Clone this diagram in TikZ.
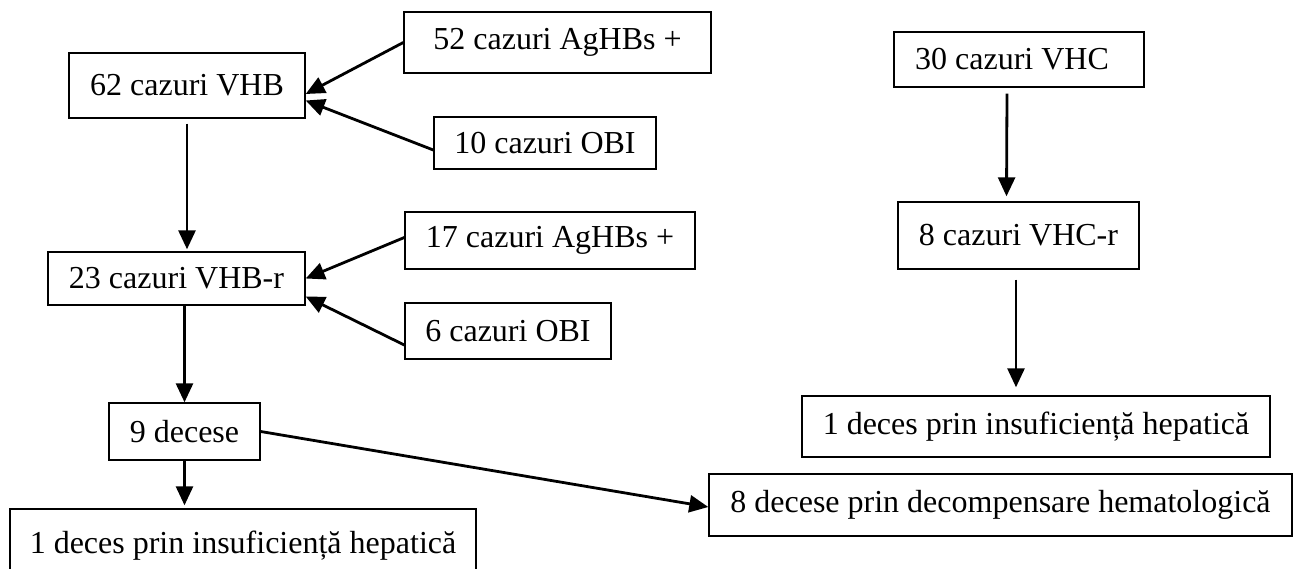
\documentclass[tikz,border=0pt]{standalone}
\usepackage{fontspec}
\setmainfont{Liberation Serif}
\usetikzlibrary{arrows.meta,calc}
\begin{document}
\begin{tikzpicture}[x=1pt,y=-1pt,
  box/.style={draw, line width=1.4pt, inner sep=0pt, align=center, font=\fontsize{32}{38}\selectfont},
  arr/.style={line width=2.8pt, -{Triangle[length=19pt,width=17pt]}}]
\useasboundingbox (0,0) rectangle (1293,569);
\fill[white] (0,0) rectangle (1293,569);
\clip (0,0) rectangle (1293,569);
% left column
\node[box, minimum width=307pt, minimum height=61pt] (ag1) at (557.5,42.5) {52 cazuri AgHBs +};
\node[box, minimum width=236pt, minimum height=65pt] (vhb) at (187,85.5) {62 cazuri VHB};
\node[box, minimum width=222pt, minimum height=52pt] (obi1) at (545,143) {10 cazuri OBI};
\node[box, minimum width=290pt, minimum height=57pt] (ag2) at (550,240.5) {17 cazuri AgHBs +};
\node[box, minimum width=257pt, minimum height=53pt] (vhbr) at (176.5,278.5) {23 cazuri VHB-r};
\node[box, minimum width=206pt, minimum height=56pt] (obi2) at (508,331) {6 cazuri OBI};
\node[box, minimum width=151pt, minimum height=57pt] (dec) at (184.5,431.5) {9 decese};
\node[box, minimum width=466pt, minimum height=74pt] (ins1) at (243,546) {1 deces prin insuficiență hepatică};
% right column
\node[box, minimum width=250pt, minimum height=55pt] (vhc) at (1019,59.5) {30 cazuri VHC\hspace*{14pt}};
\node[box, minimum width=241pt, minimum height=67pt] (vhcr) at (1018.5,235.5) {8 cazuri VHC-r};
\node[box, minimum width=468pt, minimum height=61pt] (ins2) at (1036,426.5) {1 deces prin insuficiență hepatică};
\node[box, minimum width=583pt, minimum height=62pt] (hem) at (1000.5,505) {8 decese prin decompensare hematologică};
% connectors
\draw[arr] (ag1.west) -- ([yshift=-8.5pt]vhb.east);
\draw[arr] ([yshift=-7pt]obi1.west) -- ([yshift=-15pt]vhb.east);
\draw[arr] ([yshift=3pt]ag2.west) -- (vhbr.east);
\draw[arr] ([yshift=-14pt]obi2.west) -- ([yshift=-18pt]vhbr.east);
\draw[arr] ([yshift=-5pt]vhb.south) -- ([yshift=2pt]vhb.south |- vhbr.north);
\draw[arr] (dec.north |- vhbr.south) -- (dec.north);
\draw[arr] (dec.south) -- ($(dec.south |- ins1.north)+(0,-3)$);
\draw[arr] (dec.east) -- ([yshift=-2pt]hem.west);
\draw[arr] ([xshift=-12pt,yshift=-6pt]vhc.south) -- ([xshift=-12pt,yshift=5pt]vhcr.north);
\draw[arr] ([xshift=-2.5pt,yshift=-10pt]vhcr.south) -- ($(vhcr.south |- ins2.north)+(-2.5,-8)$);
\end{tikzpicture}
\end{document}
